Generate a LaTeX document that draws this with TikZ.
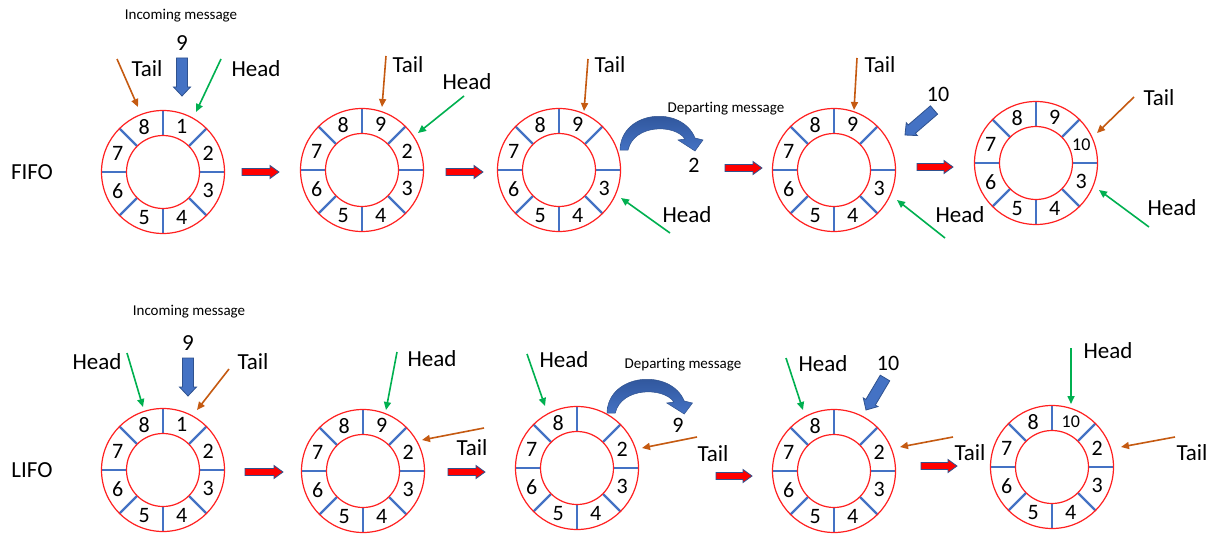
\documentclass[tikz,border=0pt]{standalone}
\usepackage{fontspec}
\setmainfont{Carlito}[Ligatures=NoCommon]
\usetikzlibrary{calc,arrows.meta}
\definecolor{ringred}{HTML}{FF2020}
\definecolor{spokeblue}{HTML}{4472C4}
\definecolor{tailc}{HTML}{C55A11}
\definecolor{headc}{HTML}{00B050}
\definecolor{blkblue}{HTML}{4472C4}
\definecolor{darkblue}{HTML}{2B4F91}
\definecolor{outblue}{HTML}{2F528F}
\tikzset{
 ringline/.style={draw=ringred, line width=1.2pt},
 spokeline/.style={draw=spokeblue, line width=2.4pt},
 numlab/.style={inner sep=0pt, font=\fontsize{22}{22}\selectfont},
 biglab/.style={inner sep=0pt, font=\fontsize{23}{23}\selectfont},
 smalllab/.style={inner sep=0pt, font=\fontsize{15}{15}\selectfont},
 tailarrow/.style={draw=tailc, line width=1.6pt, -{Triangle[length=8pt,width=7pt]}},
 headarrow/.style={draw=headc, line width=1.6pt, -{Triangle[length=8pt,width=7pt]}},
 redblock/.style={fill=red, draw=outblue, line width=0.8pt},
 blueblock/.style={fill=blkblue, draw=outblue, line width=0.8pt},
 curvearrow/.style={top color=darkblue, bottom color=blkblue, draw=outblue, line width=0.5pt}
}
\newcommand{\tenfont}{\fontsize{18}{18}\selectfont}
% ring: name, center, labels
\newcommand{\qring}[3]{%
 \coordinate (#1) at #2;
 \foreach \a in {0,45,...,315} \draw[spokeline] ($(#1)+(\a:36.5pt)$) -- ($(#1)+(\a:61.5pt)$);
 \draw[ringline] (#1) circle[radius=61.5pt];
 \draw[ringline] (#1) circle[radius=36.5pt];
 \foreach \lab [count=\k] in {#3} \node[numlab] (#1-\k) at ($(#1)+({112.5-45*\k}:49pt)$) {\lab};
}
% block arrow: style, from, to, shaft half, head half, head length
\newcommand{\blockarrow}[6]{%
 \coordinate (ba-m) at ($(#3)!#6!(#2)$);
 \draw[#1] ($(#2)!#4!90:(#3)$) -- ($(ba-m)!#4!90:(#3)$) -- ($(ba-m)!#5!90:(#3)$) -- (#3)
   -- ($(ba-m)!#5!-90:(#3)$) -- ($(ba-m)!#4!-90:(#3)$) -- ($(#2)!#4!-90:(#3)$) -- cycle;
}
\newcommand{\curvedarrow}[1]{%
 \draw[curvearrow, #1] (0,0) .. controls (1,-40) and (62,-45) .. (75,-12) -- (83,-10) -- (75,1)
   -- (58,-10) -- (65,-11) .. controls (55,-26) and (14,-26) .. (8,0) -- cycle;
}
\begin{document}
\begin{tikzpicture}[x=1pt,y=-1pt]
\useasboundingbox (0,0) rectangle (1211,535);
\fill[white] (0,0) rectangle (1211,535);

% ---------------- FIFO row ----------------
\node[biglab] (fifo) at (32,172) {FIFO};
\qring{t1}{(163,172)}{1,2,3,4,5,6,7,8}
\qring{t2}{(362,170)}{9,2,3,4,5,6,7,8}
\qring{t3}{(559,170)}{9,,3,4,5,6,7,8}
\qring{t4}{(834,170)}{9,,3,4,5,6,7,8}
\qring{t5}{(1036,163)}{9,{\tenfont 10},3,4,5,6,7,8}

% red arrows
\coordinate (ra1a) at (242,172); \coordinate (ra1b) at (279,172);
\coordinate (ra2a) at (446,172); \coordinate (ra2b) at (483,172);
\coordinate (ra3a) at (725,168); \coordinate (ra3b) at (762,168);
\coordinate (ra4a) at (917,167); \coordinate (ra4b) at (953,167);
\blockarrow{redblock}{ra1a}{ra1b}{3.5pt}{6.5pt}{9pt}
\blockarrow{redblock}{ra2a}{ra2b}{3.5pt}{6.5pt}{9pt}
\blockarrow{redblock}{ra3a}{ra3b}{3.5pt}{6.5pt}{9pt}
\blockarrow{redblock}{ra4a}{ra4b}{3.5pt}{6.5pt}{9pt}

% ring 1 annotations
\node[smalllab] (inc1) at (181,16) {Incoming message};
\node[biglab] (n9a) at (182,43) {9};
\coordinate (ba1a) at (182,58); \coordinate (ba1b) at (182,96);
\blockarrow{blueblock}{ba1a}{ba1b}{5.5pt}{8.5pt}{9pt}
\node[biglab] (tail1) at (147,69) {Tail};
\node[biglab] (head1) at (256,69) {Head};
\coordinate (ta1) at (117,59); \coordinate (te1) at (138,107);
\draw[tailarrow] (ta1) -- (te1);
\coordinate (ha1) at (221,59); \coordinate (he1) at (196,112);
\draw[headarrow] (ha1) -- (he1);

% ring 2
\node[biglab] (tail2) at (408,65) {Tail};
\node[biglab] (head2) at (467,82) {Head};
\coordinate (ta2) at (386,56); \coordinate (te2) at (382,107);
\draw[tailarrow] (ta2) -- (te2);
\coordinate (ha2) at (464,96); \coordinate (he2) at (418,133);
\draw[headarrow] (ha2) -- (he2);

% ring 3
\node[biglab] (tail3) at (610,65) {Tail};
\node[smalllab] (dep1) at (726,109) {Departing message};
\node[numlab] (n2) at (694,165) {2};
\node[biglab] (head3) at (687,215) {Head};
\coordinate (ta3) at (588,59); \coordinate (te3) at (584,111);
\draw[tailarrow] (ta3) -- (te3);
\coordinate (ha3) at (670,233); \coordinate (he3) at (621,198);
\draw[headarrow] (ha3) -- (he3);
\curvedarrow{shift={(620,150)}}

% ring 4
\node[biglab] (tail4) at (880,65) {Tail};
\node[numlab] (n10a) at (938,94) {10};
\node[biglab] (head4) at (960,215) {Head};
\coordinate (ta4) at (857,58); \coordinate (te4) at (854,110);
\draw[tailarrow] (ta4) -- (te4);
\coordinate (ha4) at (945,238); \coordinate (he4) at (897,200);
\draw[headarrow] (ha4) -- (he4);
\coordinate (ba2a) at (934,110); \coordinate (ba2b) at (905,135);
\blockarrow{blueblock}{ba2a}{ba2b}{5.5pt}{8.5pt}{9pt}

% ring 5
\node[biglab] (tail5) at (1159,98) {Tail};
\node[biglab] (head5) at (1172,208) {Head};
\coordinate (ta5) at (1134,97); \coordinate (te5) at (1097,133);
\draw[tailarrow] (ta5) -- (te5);
\coordinate (ha5) at (1149,227); \coordinate (he5) at (1099,190);
\draw[headarrow] (ha5) -- (he5);

% ---------------- LIFO row ----------------
\node[biglab] (lifo) at (32,470) {LIFO};
\qring{b1}{(163,470)}{1,2,3,4,5,6,7,8}
\qring{b2}{(363,471)}{9,2,3,4,5,6,7,8}
\qring{b3}{(577,468)}{,2,3,4,5,6,7,8}
\qring{b4}{(834,471)}{,2,3,4,5,6,7,8}
\qring{b5}{(1052,467)}{{\tenfont 10},2,3,4,5,6,7,8}

\coordinate (rb1a) at (245,472); \coordinate (rb1b) at (283,472);
\coordinate (rb2a) at (448,472); \coordinate (rb2b) at (485,472);
\coordinate (rb3a) at (716,476); \coordinate (rb3b) at (752,476);
\coordinate (rb4a) at (921,466); \coordinate (rb4b) at (957,466);
\blockarrow{redblock}{rb1a}{rb1b}{3.5pt}{6.5pt}{9pt}
\blockarrow{redblock}{rb2a}{rb2b}{3.5pt}{6.5pt}{9pt}
\blockarrow{redblock}{rb3a}{rb3b}{3.5pt}{6.5pt}{9pt}
\blockarrow{redblock}{rb4a}{rb4b}{3.5pt}{6.5pt}{9pt}

% ring 1
\node[smalllab] (inc2) at (189,312) {Incoming message};
\node[biglab] (n9b) at (188,343) {9};
\coordinate (bb1a) at (188,358); \coordinate (bb1b) at (188,396);
\blockarrow{blueblock}{bb1a}{bb1b}{5.5pt}{8.5pt}{9pt}
\node[biglab] (bhead1) at (97,362) {Head};
\node[biglab] (btail1) at (253,362) {Tail};
\coordinate (bha1) at (127,353); \coordinate (bhe1) at (143,407);
\draw[headarrow] (bha1) -- (bhe1);
\coordinate (bta1) at (229,369); \coordinate (bte1) at (197,410);
\draw[tailarrow] (bta1) -- (bte1);

% ring 2
\node[biglab] (bhead2) at (432,359) {Head};
\node[biglab] (btail2) at (472,448) {Tail};
\coordinate (bha2) at (397,352); \coordinate (bhe2) at (386,410);
\draw[headarrow] (bha2) -- (bhe2);
\coordinate (bta2) at (484,428); \coordinate (bte2) at (422,440);
\draw[tailarrow] (bta2) -- (bte2);

% ring 3
\node[biglab] (bhead3) at (564,360) {Head};
\node[smalllab] (dep2) at (683,365) {Departing message};
\node[numlab] (n9c) at (678,425) {9};
\node[biglab] (btail3) at (713,454) {Tail};
\coordinate (bha3) at (527,354); \coordinate (bhe3) at (545,406);
\draw[headarrow] (bha3) -- (bhe3);
\coordinate (bta3) at (697,437); \coordinate (bte3) at (642,448);
\draw[tailarrow] (bta3) -- (bte3);
\curvedarrow{shift={(607,413)}, xscale=1.03}

% ring 4
\node[biglab] (bhead4) at (823,364) {Head};
\node[numlab] (n10b) at (888,363) {10};
\node[biglab] (btail4) at (970,453) {Tail};
\coordinate (bha4) at (786,358); \coordinate (bhe4) at (803,410);
\draw[headarrow] (bha4) -- (bhe4);
\coordinate (bta4) at (953,437); \coordinate (bte4) at (900,447);
\draw[tailarrow] (bta4) -- (bte4);
\coordinate (bb2a) at (885,378); \coordinate (bb2b) at (866,410);
\blockarrow{blueblock}{bb2a}{bb2b}{5.5pt}{8.5pt}{9pt}

% ring 5
\node[biglab] (bhead5) at (1108,351) {Head};
\node[biglab] (btail5) at (1192,453) {Tail};
\coordinate (bha5) at (1071,348); \coordinate (bhe5) at (1071,404);
\draw[headarrow] (bha5) -- (bhe5);
\coordinate (bta5) at (1175,437); \coordinate (bte5) at (1121,447);
\draw[tailarrow] (bta5) -- (bte5);
\end{tikzpicture}
\end{document}
